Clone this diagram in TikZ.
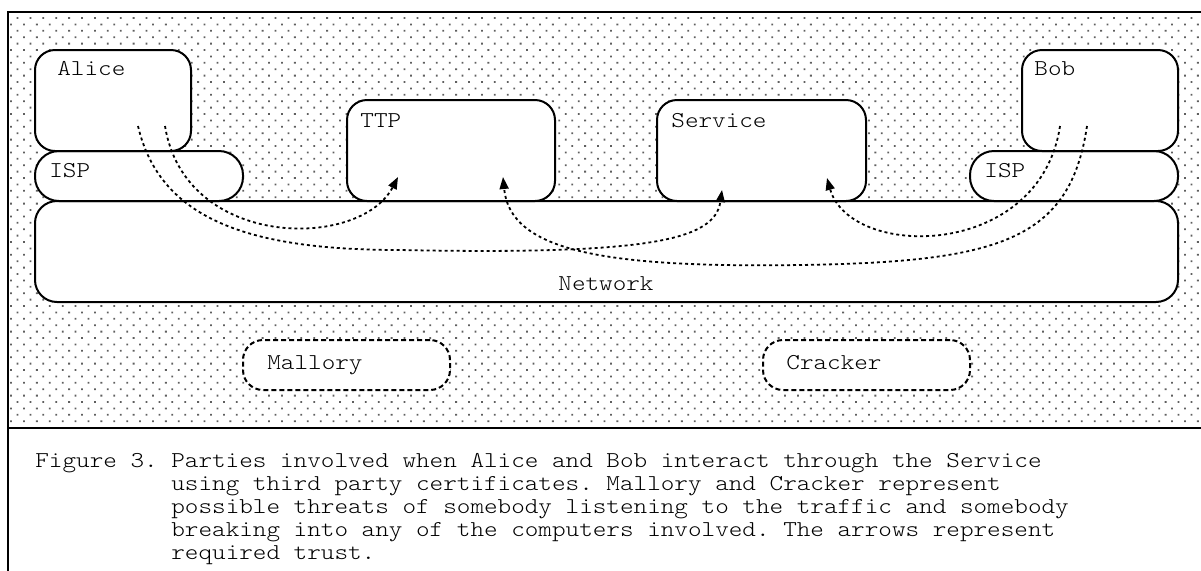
\documentclass[tikz,border=0pt]{standalone}
\usepackage{fontspec}
\setmonofont[FakeStretch=1.143]{lmmonolt10-regular.otf}
\usetikzlibrary{arrows.meta,fit}
\definecolor{dotgray}{RGB}{95,95,95}

\begin{document}
\frenchspacing
\begin{tikzpicture}[x=0.5pt,y=-0.5pt,
  party/.style={draw, fill=white, line width=1pt, rounded corners=10pt, inner sep=0pt},
  pill/.style={party, rounded corners=12pt},
  threat/.style={party, dash pattern=on 2.5pt off 1.5pt},
  lbl/.style={font=\ttfamily\fontsize{11.33}{11.5}\selectfont, inner sep=0pt},
  trust/.style={line width=0.9pt, dash pattern=on 1.5pt off 1.5pt, -{Triangle[length=6pt,width=4.5pt]}},
  frame/.style={line width=1.2pt}]
\useasboundingbox (0,0) rectangle (1201,570);

% dotted background (staggered rows) and frame
\foreach \j in {0,...,63} {
  \pgfmathsetmacro{\xo}{17.5-6.45*mod(\j,2)}
  \fill[dotgray] \foreach \i in {0,...,92} {(\xo+12.9*\i-0.9,17.1+6.4*\j) rectangle ++(1.8,1.8)};
}
\draw[frame] (8,580) -- (8,12) -- (1210,12);
\draw[frame] (8,428) -- (1210,428);

% parties
\node[party, rounded corners=11pt, fit={(35,201) (1178,302)}] (network) {};
\node[pill, fit={(35,151) (243,201)}] (ispA) {};
\node[pill, fit={(970,151) (1178,201)}] (ispB) {};
\node[party, fit={(35,50) (191,151)}] (alice) {};
\node[party, fit={(1022,50) (1178,151)}] (bob) {};
\node[party, fit={(347,100) (555,201)}] (ttp) {};
\node[party, fit={(657,100) (866,201)}] (service) {};
\node[threat, fit={(243,340) (450,390)}] (mallory) {};
\node[threat, fit={(763,340) (970,390)}] (cracker) {};

\node[lbl, anchor=base west] (alicelbl) at (57,75) {Alice};
\node[lbl, anchor=base west] (boblbl) at (1034,75) {Bob};
\node[lbl, anchor=base west] (ispAlbl) at (49,177) {ISP};
\node[lbl, anchor=base west] (ispBlbl) at (984,177) {ISP};
\node[lbl, anchor=base west] (ttplbl) at (360,127) {TTP};
\node[lbl, anchor=base west] (servicelbl) at (671,127) {Service};
\node[lbl, anchor=base] (networklbl) at (606,290) {Network};
\node[lbl, anchor=base west] (mallorylbl) at (267,369) {Mallory};
\node[lbl, anchor=base west] (crackerlbl) at (786,369) {Cracker};

% trust arrows
\coordinate (aliceout) at (138,126);
\coordinate (alicein) at (165,126);
\coordinate (bobin) at (1060,126);
\coordinate (bobout) at (1087,126);
\coordinate (ttpA) at (398,177);
\coordinate (ttpB) at (503,177);
\coordinate (serviceA) at (722,190);
\coordinate (serviceB) at (827,178);
\draw[trust] (alicein) .. controls (185,250) and (360,250) .. (ttpA);
\draw[trust] (aliceout) .. controls (160,220) and (250,250) .. (400,250)
  .. controls (650,255) and (715,240) .. (serviceA);
\draw[trust] (bobin) .. controls (1040,260) and (850,260) .. (serviceB);
\draw[trust] (bobout) .. controls (1070,240) and (1000,262) .. (800,265)
  .. controls (600,268) and (510,250) .. (ttpB);

% caption
\node[lbl, anchor=base west] (caption) at (35,467) {%
  \begin{tabular}[t]{@{}l@{}l@{}}
  Figure 3.~ & Parties involved when Alice and Bob interact through the Service\\
  & using third party certificates. Mallory and Cracker represent\\
  & possible threats of somebody listening to the traffic and somebody\\
  & breaking into any of the computers involved. The arrows represent\\
  & required trust.
  \end{tabular}};
\end{tikzpicture}
\end{document}
